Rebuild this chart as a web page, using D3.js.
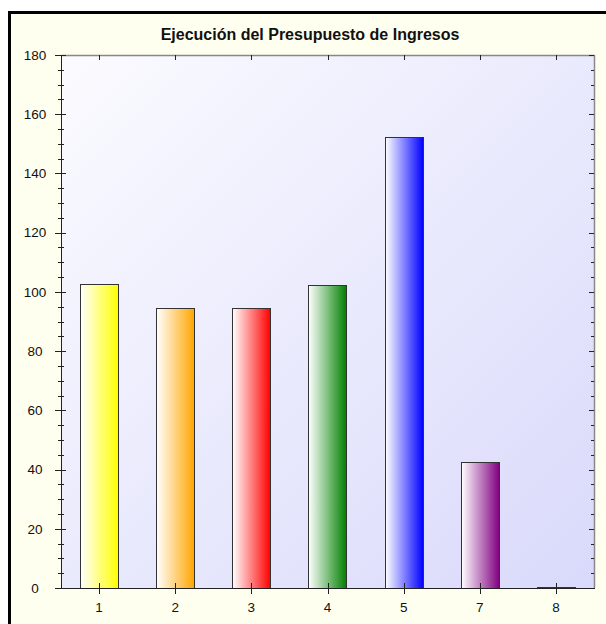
<!DOCTYPE html>
<html>
<head>
<meta charset="utf-8">
<script src="https://cdn.jsdelivr.net/npm/d3@7/dist/d3.min.js"></script>
<style>
  html, body { margin: 0; padding: 0; background: #ffffff; overflow: hidden; }
  svg { display: block; overflow: hidden; font-family: "Liberation Sans", Arial, sans-serif; }
</style>
</head>
<body>
<svg width="606" height="624"></svg>
<script>
// chart data
var titleText = "Ejecución del Presupuesto de Ingresos";
var categories = ["1", "2", "3", "4", "5", "7", "8"];
var values = [102.7, 94.7, 94.7, 102.2, 152.4, 42.4, 0.4];
var barColors = ["#ffff00", "#ffa500", "#ff0000", "#008000", "#0000ff", "#800080", "#202020"];
var yTicks = [0, 20, 40, 60, 80, 100, 120, 140, 160, 180];

var svg = d3.select("svg");
var defs = svg.append("defs");

// plot box (note: "top" is taken by window.top, so use plot* names)
var plotLeft = 61, plotRight = 594, plotTop = 55, plotBottom = 588;

// outer frame with cream background, right and bottom run off the picture
svg.append("rect")
	.attr("x", 9.5).attr("y", 12.5)
	.attr("width", 700).attr("height", 700)
	.attr("fill", "#fffff0")
	.attr("stroke", "#000")
	.attr("stroke-width", 3);

// plot background gradient
var bg = defs.append("linearGradient")
	.attr("id", "plotbg")
	.attr("x1", "0%").attr("y1", "0%")
	.attr("x2", "100%").attr("y2", "100%");
bg.append("stop").attr("offset", "0%").attr("stop-color", "#fbfbff");
bg.append("stop").attr("offset", "100%").attr("stop-color", "#d9d9fb");

svg.append("rect")
	.attr("x", plotLeft).attr("y", plotTop)
	.attr("width", plotRight - plotLeft).attr("height", plotBottom - plotTop)
	.attr("fill", "url(#plotbg)");

// title
svg.append("text")
	.attr("x", 310).attr("y", 40)
	.attr("text-anchor", "middle")
	.attr("font-size", "16px")
	.attr("font-weight", "bold")
	.attr("fill", "#111")
	.text(titleText);

var x = d3.scaleBand()
	.domain(categories)
	.range([plotLeft, plotRight])
	.paddingInner(0.5)
	.paddingOuter(0.25);

var y = d3.scaleLinear()
	.domain([0, 180])
	.range([plotBottom, plotTop]);

// bar gradients, white on the left to full colour on the right
barColors.forEach(function(c, i) {
	var g = defs.append("linearGradient")
		.attr("id", "bar" + i)
		.attr("x1", "0%").attr("y1", "0%")
		.attr("x2", "100%").attr("y2", "0%");
	g.append("stop").attr("offset", "0%").attr("stop-color", "#ffffff");
	g.append("stop").attr("offset", "100%").attr("stop-color", c);
});

svg.selectAll("rect.bar")
	.data(values)
	.enter().append("rect")
	.attr("class", "bar")
	.attr("x", function(d, i) { return Math.round(x(categories[i])) + 0.5; })
	.attr("y", function(d) { return Math.round(y(d)) + 0.5; })
	.attr("width", Math.round(x.bandwidth()))
	.attr("height", function(d) { return Math.max(0, Math.round(y(0)) - Math.round(y(d))); })
	.attr("fill", function(d, i) { return "url(#bar" + i + ")"; })
	.attr("stroke", "#333")
	.attr("stroke-width", 1);

// frame top and right (gray)
svg.append("path")
	.attr("d", "M" + plotLeft + "," + (plotTop + 0.5) + "H" + (plotRight + 0.5) + "V" + plotBottom)
	.attr("fill", "none")
	.attr("stroke", "#888")
	.attr("stroke-width", 1.5);

// minor tick values every 5
var minorTicks = d3.range(0, 181, 5).filter(function(v) { return v % 20 != 0; });

var g = svg.append("g").attr("stroke", "#222").attr("stroke-width", 1);

// left axis line
g.append("line")
	.attr("x1", plotLeft + 0.5).attr("x2", plotLeft + 0.5)
	.attr("y1", plotTop).attr("y2", plotBottom);

yTicks.forEach(function(v) {
	var yy = Math.round(y(v)) + 0.5;
	g.append("line").attr("x1", plotLeft - 6).attr("x2", plotLeft + 5).attr("y1", yy).attr("y2", yy);
	g.append("line").attr("x1", plotRight - 5).attr("x2", plotRight).attr("y1", yy).attr("y2", yy);
});
minorTicks.forEach(function(v) {
	var yy = Math.round(y(v)) + 0.5;
	g.append("line").attr("x1", plotLeft - 3).attr("x2", plotLeft + 3).attr("y1", yy).attr("y2", yy);
	g.append("line").attr("x1", plotRight - 3).attr("x2", plotRight).attr("y1", yy).attr("y2", yy);
});

// bottom axis line
g.append("line")
	.attr("x1", plotLeft - 6).attr("x2", plotRight + 1)
	.attr("y1", plotBottom + 0.5).attr("y2", plotBottom + 0.5);

categories.forEach(function(c) {
	var xx = Math.round(x(c) + x.bandwidth() / 2) + 0.5;
	g.append("line").attr("x1", xx).attr("x2", xx).attr("y1", plotBottom - 5).attr("y2", plotBottom + 6);
	g.append("line").attr("x1", xx).attr("x2", xx).attr("y1", plotTop).attr("y2", plotTop + 5);
});

// y labels
svg.selectAll("text.ylab")
	.data(yTicks)
	.enter().append("text")
	.attr("class", "ylab")
	.attr("x", 35)
	.attr("y", function(d) { return y(d); })
	.attr("dy", "0.35em")
	.attr("text-anchor", "middle")
	.attr("font-size", "13.5px")
	.attr("fill", "#111")
	.text(function(d) { return d; });

// x labels
svg.selectAll("text.xlab")
	.data(categories)
	.enter().append("text")
	.attr("class", "xlab")
	.attr("x", function(d) { return x(d) + x.bandwidth() / 2; })
	.attr("y", 612)
	.attr("text-anchor", "middle")
	.attr("font-size", "13.5px")
	.attr("fill", "#111")
	.text(function(d) { return d; });
</script>
</body>
</html>
